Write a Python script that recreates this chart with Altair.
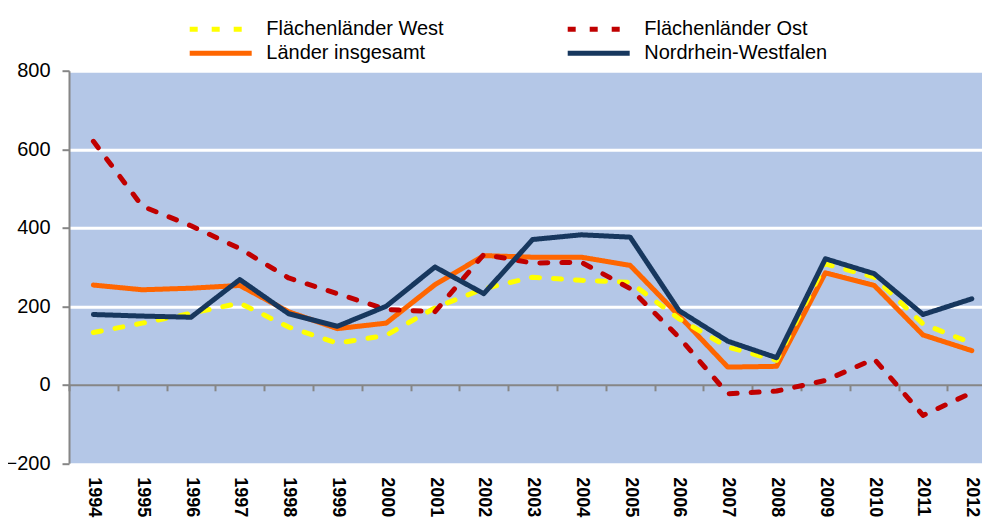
import altair as alt
import pandas as pd

years = [str(y) for y in range(1994, 2013)]

west = [133, 157, 182, 208, 147, 106, 126, 196, 245, 274, 266, 261, 168, 96, 62, 308, 274, 155, 106]
ost = [620, 455, 405, 347, 272, 232, 192, 186, 332, 310, 312, 245, 121, -23, -16, 11, 66, -78, -20]
gesamt = [254, 242, 246, 253, 186, 143, 157, 255, 329, 325, 325, 304, 176, 45, 47, 285, 253, 127, 87]
nrw = [179, 175, 172, 268, 181, 149, 200, 300, 232, 370, 382, 376, 189, 111, 69, 321, 283, 179, 219]

names = ["Flächenländer West", "Flächenländer Ost", "Länder insgesamt", "Nordrhein-Westfalen"]
colors = ["#FFFF00", "#C00000", "#FF6600", "#17375E"]
dashes = [[8, 14], [8, 14], [1, 0], [1, 0]]
series = [west, ost, gesamt, nrw]

rows = []
for name, vals in zip(names, series):
    for yr, v in zip(years, vals):
        rows.append({"Jahr": yr, "Wert": v, "Reihe": name})
df = pd.DataFrame(rows)

W = 913            # visible plot width (rest is cut off like the reference)
FULL = 19 * 48.8   # full band range
H = 392.6
FONT = "Liberation Sans"

legend = alt.Legend(
    title=None, orient="none", legendX=138.7, legendY=-54.5, columns=2,
    direction="horizontal", symbolType="M-3,0H3", symbolSize=427,
    symbolStrokeWidth=5, labelFontSize=20, labelFont=FONT, labelColor="black",
    labelOffset=32.6, columnPadding=113, rowPadding=1, labelLimit=500, padding=0,
)

base = alt.Chart(df).mark_line(strokeWidth=5, strokeCap="round", strokeJoin="round").encode(
    x=alt.X("Jahr:O", sort=years,
            scale=alt.Scale(type="band", paddingInner=0, paddingOuter=0, range=[0, FULL]),
            axis=alt.Axis(title=None, labelAngle=90, labelFont=FONT, labelFontWeight="bold",
                          labelFontSize=18, labelColor="black", labelAlign="left",
                          labelBaseline="middle", labelOverlap=False,
                          domainColor="#868686", domainWidth=2, tickColor="#868686",
                          tickWidth=2, tickSize=6, tickBand="extent",
                          offset=-H * 0.2, labelPadding=86, grid=False)),
    y=alt.Y("Wert:Q", scale=alt.Scale(domain=[-200, 800], nice=False, zero=False),
            axis=alt.Axis(title=None, values=[-200, 0, 200, 400, 600, 800],
                          labelFont=FONT, labelFontSize=20, labelColor="black",
                          labelPadding=12, domainColor="#868686", domainWidth=2,
                          tickColor="#868686", tickWidth=2, tickSize=7,
                          gridColor="white", gridWidth=3,
                          gridOpacity=alt.condition("datum.value <= 0", alt.value(0), alt.value(1)))),
    color=alt.Color("Reihe:N", scale=alt.Scale(domain=names, range=colors), legend=legend),
    strokeDash=alt.StrokeDash("Reihe:N", scale=alt.Scale(domain=names, range=dashes), legend=legend),
)

order = ["Länder insgesamt", "Flächenländer West", "Flächenländer Ost", "Nordrhein-Westfalen"]
layers = [base.transform_filter(alt.datum.Reihe == n) for n in order]

chart = alt.layer(*layers).properties(
    width=W, height=H,
    autosize=alt.AutoSizeParams(type="none"),
    padding={"left": 61, "top": 62.7, "right": 0, "bottom": 56},
).configure_view(fill="#B4C7E7", stroke=None)

chart.save("out.html", embed_options={"renderer": "svg", "actions": False})
